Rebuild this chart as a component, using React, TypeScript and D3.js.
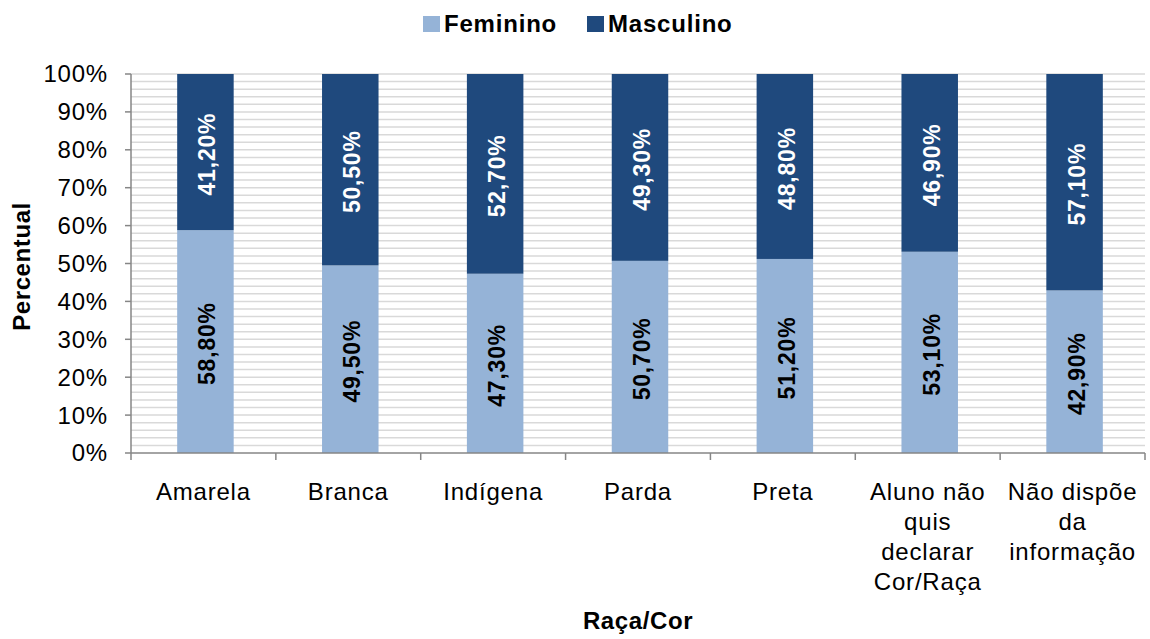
import React, { useEffect, useRef } from 'react';
import * as d3 from 'd3';

const categories = [
  ['Amarela'],
  ['Branca'],
  ['Indígena'],
  ['Parda'],
  ['Preta'],
  ['Aluno não', 'quis', 'declarar', 'Cor/Raça'],
  ['Não dispõe', 'da', 'informação'],
];
const feminino = [58.8, 49.5, 47.3, 50.7, 51.2, 53.1, 42.9];
const masculino = [41.2, 50.5, 52.7, 49.3, 48.8, 46.9, 57.1];
const seriesNames = ['Feminino', 'Masculino'];
const colors = ['#95B3D7', '#1F497D'];

const fmt = (v: number) => v.toFixed(2).replace('.', ',') + '%';

const App = () => {
  const svgRef = useRef<SVGSVGElement>(null);

  useEffect(() => {
    const svg = d3.select(svgRef.current);
    svg.selectAll('*').remove();
    const width = 1150;
    const height = 639;
    const margin = { left: 131, right: 5, top: 74, bottom: 186 };
    const font = 'Liberation Sans, Arial, sans-serif';

    svg.attr('width', width).attr('height', height).style('font-family', font);

    const x = d3.scaleBand<number>()
      .domain(d3.range(categories.length))
      .range([margin.left, width - margin.right]);
    const y = d3.scaleLinear().domain([0, 100]).range([height - margin.bottom, margin.top]);

    // minor grid every 2%
    svg.append('g').selectAll('line')
      .data(d3.range(2, 101, 2))
      .join('line')
      .attr('x1', margin.left).attr('x2', width - margin.right)
      .attr('y1', d => y(d)).attr('y2', d => y(d))
      .attr('stroke', '#d9d9d9').attr('stroke-width', 1.5);

    // bars
    const barW = x.bandwidth() * 0.39;
    const stacks = [feminino, masculino];
    categories.forEach((_, i) => {
      let base = 0;
      const cx = x(i)! + x.bandwidth() / 2 + 2;
      stacks.forEach((s, k) => {
        const v = s[i];
        svg.append('rect')
          .attr('x', cx - barW / 2)
          .attr('width', barW)
          .attr('y', y(base + v))
          .attr('height', y(base) - y(base + v))
          .attr('fill', colors[k]);
        const my = (y(base) + y(base + v)) / 2;
        svg.append('text')
          .attr('transform', `translate(${cx + 10},${my + 2}) rotate(-90)`)
          .attr('text-anchor', 'middle')
          .attr('font-size', 23)
          .attr('letter-spacing', 0.8)
          .attr('font-weight', 'bold')
          .attr('fill', k === 0 ? '#000' : '#fff')
          .text(fmt(v));
        base += v;
      });
    });

    // y axis
    const axisColor = '#868686';
    svg.append('line')
      .attr('x1', margin.left).attr('x2', margin.left)
      .attr('y1', y(100)).attr('y2', y(0))
      .attr('stroke', axisColor).attr('stroke-width', 1.5);
    const yTicks = d3.range(0, 101, 10);
    svg.append('g').selectAll('line')
      .data(yTicks)
      .join('line')
      .attr('x1', margin.left - 6).attr('x2', margin.left)
      .attr('y1', d => y(d)).attr('y2', d => y(d))
      .attr('stroke', axisColor).attr('stroke-width', 1.5);
    svg.append('g').selectAll('text')
      .data(yTicks)
      .join('text')
      .attr('x', margin.left - 23)
      .attr('y', d => y(d))
      .attr('dy', '0.35em')
      .attr('text-anchor', 'end')
      .attr('font-size', 24)
      .attr('letter-spacing', 0.8)
      .text(d => d + '%');

    // x axis
    svg.append('line')
      .attr('x1', margin.left).attr('x2', width - margin.right)
      .attr('y1', y(0)).attr('y2', y(0))
      .attr('stroke', axisColor).attr('stroke-width', 1.5);
    svg.append('g').selectAll('line')
      .data(d3.range(categories.length + 1))
      .join('line')
      .attr('x1', d => margin.left + d * x.step())
      .attr('x2', d => margin.left + d * x.step())
      .attr('y1', y(0)).attr('y2', y(0) + 7)
      .attr('stroke', axisColor).attr('stroke-width', 1.5);
    categories.forEach((lines, i) => {
      const t = svg.append('text')
        .attr('x', x(i)! + x.bandwidth() / 2)
        .attr('y', y(0) + 47)
        .attr('text-anchor', 'middle')
        .attr('font-size', 24)
        .attr('letter-spacing', 0.8);
      lines.forEach((l, j) => {
        t.append('tspan')
          .attr('x', x(i)! + x.bandwidth() / 2)
          .attr('dy', j === 0 ? 0 : 30)
          .text(l);
      });
    });

    // axis titles
    svg.append('text')
      .attr('x', 638).attr('y', 629)
      .attr('text-anchor', 'middle')
      .attr('font-size', 24).attr('font-weight', 'bold')
      .attr('letter-spacing', 0.6)
      .text('Raça/Cor');
    svg.append('text')
      .attr('transform', `translate(30,${(y(0) + y(100)) / 2 + 3}) rotate(-90)`)
      .attr('text-anchor', 'middle')
      .attr('font-size', 24).attr('font-weight', 'bold')
      .attr('letter-spacing', 0.6)
      .text('Percentual');

    // legend
    const legendX = [423, 587];
    seriesNames.forEach((n, k) => {
      svg.append('rect')
        .attr('x', legendX[k]).attr('y', 16)
        .attr('width', 17).attr('height', 16)
        .attr('fill', colors[k]);
      svg.append('text')
        .attr('x', legendX[k] + 21).attr('y', 24)
        .attr('dy', '0.35em')
        .attr('font-size', 24).attr('font-weight', 'bold')
        .attr('letter-spacing', 0.8)
        .text(n);
    });
  }, []);

  return <svg ref={svgRef} style={{ position: 'absolute', left: 0, top: 0 }}></svg>;
};

export default App;
